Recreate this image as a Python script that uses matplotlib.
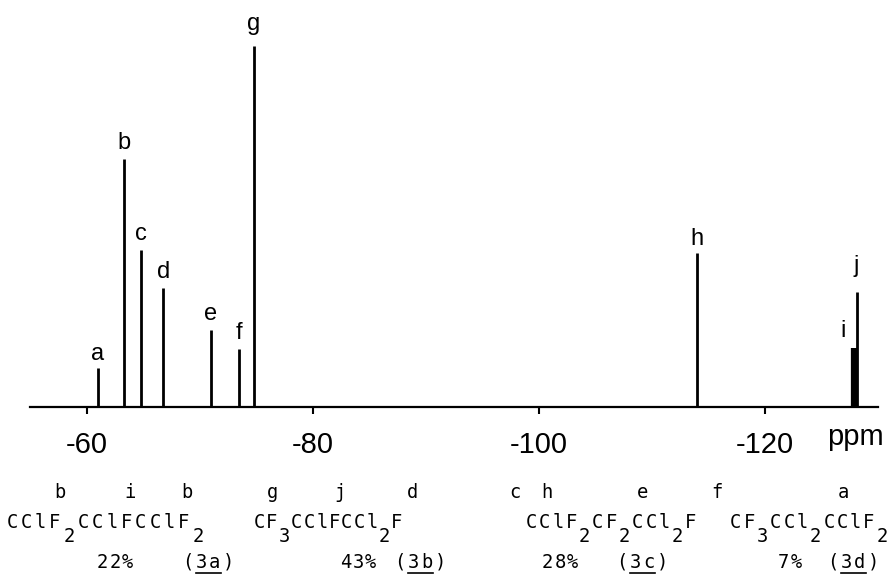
import matplotlib
matplotlib.use("Agg")
import matplotlib.pyplot as plt
from matplotlib.transforms import IdentityTransform
from matplotlib.lines import Line2D

# ---- data ----
peak_labels = ["a", "b", "c", "d", "e", "f", "g", "h", "i", "j"]
peak_ppm = [-61.0, -63.3, -64.8, -66.8, -71.0, -73.5, -74.8, -114.0, -127.9, -128.1]
peak_height = [39, 248, 157, 119, 77, 58, 361, 154, 59, 115]
x_ticks = [-60, -80, -100, -120]
x_tick_labels = ["-60", "-80", "-100", "-120"]
axis_unit = "ppm"

compound_formulas = ["CClF_2CClFCClF_2", "CF_3CClFCCl_2F", "CClF_2CF_2CCl_2F", "CF_3CCl_2CClF_2"]
compound_letters = [["b", "i", "b"], ["g", "j", "d"], ["c", "h", "e"], ["f", "a"]]
compound_percent = ["22%", "43%", "28%", "7%"]
compound_ids = ["3a", "3b", "3c", "3d"]

# ---- layout (pixels) ----
W, H = 891, 587
fig = plt.figure(figsize=(W / 100, H / 100), dpi=100)
ax = fig.add_axes([30 / W, (H - 407) / H, 848 / W, 400 / H])
ax.set_xlim(-55, -130)
ax.set_ylim(0, 400)
for s in ["top", "left", "right"]:
    ax.spines[s].set_visible(False)
ax.spines["bottom"].set_linewidth(1.6)
ax.set_yticks([])
ax.set_xticks(x_ticks)
ax.set_xticklabels(x_tick_labels, fontsize=21, family="Liberation Sans")
ax.tick_params(axis="x", direction="out", length=5, width=1.5, pad=12)

label_offsets = {"a": (0, 8), "g": (0, 16), "h": (0, 8), "i": (-11, 11), "j": (0, 20)}
for lab, x, h in zip(peak_labels, peak_ppm, peak_height):
    lw = 4.5 if lab == "i" else 2.0
    ax.vlines(x, 0, h, color="black", lw=lw)
    dx, dy = label_offsets.get(lab, (0, 10))
    ax.annotate(lab, (x, h), xytext=(dx, dy), textcoords="offset pixels",
                ha="center", va="baseline", fontsize=17, family="Liberation Sans")

ax.text(855, H - 437, axis_unit, transform=IdentityTransform(), ha="center",
        va="center", fontsize=21, family="Liberation Sans")

# ---- monospace structure text below ----
MONO = "DejaVu Sans Mono"
FS = 13.5


def parse(s):
    toks, sub = [], False
    for ch in s:
        if ch == "_":
            sub = True
            continue
        toks.append((ch, sub))
        sub = False
    return toks


def draw_mono(cx, y, s, pitch, underline=None):
    toks = parse(s)
    n = len(toks)
    x0 = cx - (n - 1) * pitch / 2
    for k, (ch, sub) in enumerate(toks):
        yy = y + (14 if sub else 0)
        fig.text(x0 + k * pitch, H - yy, ch, transform=IdentityTransform(),
                 ha="center", va="center", fontsize=FS, family=MONO)
    if underline is not None:
        a, b = underline
        xa = x0 + a * pitch - pitch / 2 + 1
        xb = x0 + b * pitch + pitch / 2 - 1
        fig.add_artist(Line2D([xa, xb], [H - y - 11, H - y - 11], lw=1.2,
                              color="black", transform=IdentityTransform()))


formula_cx = [105, 328, 611, 809]
formula_pitch = [14.3, 12.5, 13.3, 13.3]
letter_x = [[60, 130, 187], [273, 340, 413], [515, 547, 643], [717, 843]]
pct_cx = [115, 358, 560, 790]
id_cx = [208, 420, 642, 853]

for i in range(4):
    draw_mono(formula_cx[i], 523, compound_formulas[i], formula_pitch[i])
    for lx, lt in zip(letter_x[i], compound_letters[i]):
        fig.text(lx, H - 492, lt, transform=IdentityTransform(), ha="center",
                 va="center", fontsize=FS, family=MONO)
    draw_mono(pct_cx[i], 562, compound_percent[i], 12.5)
    draw_mono(id_cx[i], 562, "(" + compound_ids[i] + ")", 13.5, underline=(1, 2))

plt.rcParams["axes.unicode_minus"] = False
fig.savefig("out.png", dpi=100)
